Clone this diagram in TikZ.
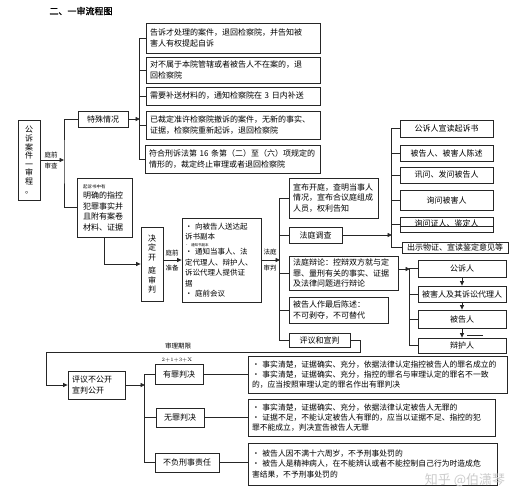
\documentclass[tikz,border=0pt]{standalone}
\usepackage{fontspec}
\newfontfamily\cjk{Noto Sans CJK SC}
\newfontfamily\cjkbold[FakeBold=1.5]{Noto Sans CJK SC}
\usetikzlibrary{arrows.meta}
\tikzset{
  bx/.style={draw=black!85, line width=0.8pt, rectangle, inner xsep=4pt, inner ysep=1pt, align=left, font=\cjk\fontsize{8}{10.5}\selectfont},
  ln/.style={draw=black!85, line width=0.8pt},
  arr/.style={ln, -{Triangle[length=4.5pt,width=4pt]}},
  lbl/.style={font=\cjk\fontsize{6.5}{7}\selectfont, inner sep=0pt},
}
\begin{document}
\begin{tikzpicture}[x=1pt,y=-1pt]
\fill[white] (0,0) rectangle (526,500);
\useasboundingbox (0,0) rectangle (526,500);

\node[font=\cjkbold\fontsize{9}{10}\selectfont] (title) at (81,11) {二、一审流程图};

% left column
\node[bx, align=center, text width=14pt, minimum height=80pt, font=\cjk\fontsize{8}{8.6}\selectfont] (main) at (29,160) {公\\诉\\案\\件\\一\\审\\程\\。};
\node[bx, align=center, text width=42pt, minimum height=16pt] (tsqk) at (103,119) {特殊情况};
\node[bx, text width=43pt, inner xsep=6pt, minimum height=59pt] (qss) at (104.5,207.5) {{\fontsize{4.5}{5}\selectfont 起诉书中有}\\明确的指控\\犯罪事实并\\且附有案卷\\材料、证据};
\node[bx, align=center, text width=14pt, minimum height=74pt, font=\cjk\fontsize{8}{9.5}\selectfont] (jskt) at (152,264) {决\\定\\开\\[4pt]庭\\审\\判};
\node[bx, text width=73pt, inner xsep=3pt, minimum height=84pt, font=\cjk\fontsize{7.5}{10.5}\selectfont] (tqzb) at (221.5,260) {• 向被告人送达起\\诉书副本\\[-4pt]{\fontsize{3.5}{4}\selectfont • 通知书副本}\\[-2pt]• 通知当事人、法\\定代理人、辩护人、\\诉讼代理人提供证\\据\\• 庭前会议};

% special cases group
\node[bx, text width=166pt, minimum height=30pt] (b1) at (233,38) {告诉才处理的案件，退回检察院，并告知被\\害人有权提起自诉};
\node[bx, text width=166pt, minimum height=26pt] (b2) at (233,70) {对不属于本院管辖或者被告人不在案的，退\\回检察院};
\node[bx, text width=166pt, minimum height=18pt] (b3) at (233,96) {\mbox{需要补送材料的，通知检察院在 3 日内补送}};
\node[bx, text width=166pt, minimum height=28pt] (b4) at (233,125) {\mbox{已裁定准许检察院撤诉的案件，无新的事实、}\\证据，检察院重新起诉，退回检察院};
\node[bx, text width=168pt, inner xsep=3.5pt, minimum height=28pt] (b5) at (233,159) {\mbox{符合刑诉法第 16 条第（二）至（六）项规定的}\\情形的，裁定终止审理或者退回检察院};

% trial group
\node[bx, text width=81pt, minimum height=40pt] (xbkt) at (333.5,198) {宣布开庭，查明当事人\\情况，宣布合议庭组成\\人员，权利告知};
\node[bx, align=center, text width=45pt, minimum height=16pt] (ftdc) at (315.5,235) {法庭调查};
\node[bx, text width=101pt, minimum height=34pt] (ftbl) at (343.5,273) {法庭辩论：控辩双方就与定\\罪、量刑有关的事实、证据\\及法律问题进行辩论};
\node[bx, text width=91pt, minimum height=26pt] (zhcs) at (338.5,310) {被告人作最后陈述：\\不可剥夺，不可替代};
\node[bx, align=center, text width=53pt, minimum height=14pt, inner ysep=0pt] (yyxp) at (319.5,340) {评议和宣判};

% investigation steps
\node[bx, align=center, text width=85pt, minimum height=17pt] (r1) at (446.5,128.5) {公诉人宣读起诉书};
\node[bx, align=center, text width=85pt, minimum height=16pt] (r2) at (446.5,153) {被告人、被害人陈述};
\node[bx, align=center, text width=85pt, minimum height=16pt] (r3) at (446.5,175) {讯问、发问被告人};
\node[bx, align=center, text width=85pt, minimum height=20pt] (r4) at (446.5,200) {询问被害人};
\node[bx, align=center, text width=85pt, minimum height=15pt, inner ysep=0pt] (r5) at (446.5,224.5) {\raisebox{2.5pt}{询问证人、鉴定人}};
\node[bx, align=center, text width=98pt, minimum height=11pt, inner ysep=0pt] (r6) at (455,247.5) {\raisebox{1.5pt}{出示物证、宣读鉴定意见等}};

% debate parties
\node[bx, align=center, text width=80pt, minimum height=17pt] (s1) at (462,268.5) {公诉人};
\node[bx, align=center, text width=80pt, minimum height=16pt] (s2) at (462,294) {被害人及其诉讼代理人};
\node[bx, align=center, text width=80pt, minimum height=18pt] (s3) at (462,319) {被告人};
\node[bx, align=center, text width=80pt, minimum height=15pt, inner ysep=0pt] (s4) at (462,345.5) {辩护人};

% verdict group
\node[bx, text width=49pt, minimum height=28pt] (pyb) at (96.5,385) {评议不公开\\宣判公开};
\node[bx, align=center, text width=40pt, minimum height=20pt] (yz) at (179,374) {有罪判决};
\node[bx, align=center, text width=40pt, minimum height=19pt] (wz) at (180,417.5) {无罪判决};
\node[bx, align=center, text width=56pt, minimum height=19pt] (bf) at (187,462.5) {不负刑事责任};
\node[bx, text width=251pt, minimum height=37pt, font=\cjk\fontsize{7.8}{10}\selectfont] (d1) at (377.5,374.5) {• 事实清楚，证据确实、充分，依据法律认定指控被告人的罪名成立的\\• 事实清楚，证据确实、充分，指控的罪名与审理认定的罪名不一致\\的，应当按照审理认定的罪名作出有罪判决};
\node[bx, text width=239pt, minimum height=37pt, font=\cjk\fontsize{7.8}{10}\selectfont] (d2) at (371.5,417.5) {• 事实清楚，证据确实、充分，依据法律认定被告人无罪的\\• 证据不足，不能认定被告人有罪的，应当以证据不足、指控的犯\\罪不能成立，判决宣告被告人无罪};
\node[bx, text width=241pt, minimum height=42pt, font=\cjk\fontsize{7.8}{10.5}\selectfont] (d3) at (372.5,464) {• 被告人因不满十六周岁，不予刑事处罚的\\• 被告人是精神病人，在不能辨认或者不能控制自己行为时造成危\\害结果，不予刑事处罚的};

% labels
\node[lbl] (l1a) at (51,155) {庭前};
\node[lbl] (l1b) at (51,166) {审查};
\node[lbl] (l2a) at (172,253) {庭前};
\node[lbl] (l2b) at (172,268) {准备};
\node[lbl] (l3a) at (270,252) {法庭};
\node[lbl] (l3b) at (270,268) {审判};
\node[lbl] (sqx) at (178,346) {审理期限};
\node[font=\fontsize{5}{6}\selectfont, inner sep=0pt] (sqx2) at (177,360) {2+1+3+X};
\node[text=gray!40, font=\cjk\fontsize{13}{14}\selectfont] (wm) at (465,480) {知乎 @伯潇琴};

% connectors
\coordinate (j1) at (64,160);
\draw[arr] (main.east) -- (j1);
\draw[ln] (tsqk.west) -| (j1) |- (qss.west);
\coordinate (j2) at (140,119);
\draw[arr] (tsqk.east) -- (j2);
\draw[ln] (b1.west) -- ++(-6,0) |- (b5.west);
\draw[ln] (b2.west) -- ++(-6,0);
\draw[ln] (b3.west) -- ++(-6,0);
\draw[ln] (b4.west) -- ++(-6,0);

\draw[arr] (qss.south) |- (jskt.west);
\draw[arr] (jskt.east |- tqzb.west) -- (tqzb.west);
\coordinate (j3) at (280,260);
\draw[arr] (tqzb.east) -- (j3);
\draw[ln] (xbkt.west) -- ++(-9,0) |- (yyxp.west);
\draw[ln] (ftdc.west) -- ++(-9,0);
\draw[ln] (ftbl.west) -- ++(-9,0);
\draw[ln] (zhcs.west) -- ++(-9,0);

\coordinate (j4) at (392,235);
\draw[arr] (ftdc.east) -- (j4);
\draw[ln] (r1.west) -- ++(-8,0) |- (r6.west);
\draw[ln] (r2.west) -- ++(-8,0);
\draw[ln] (r3.west) -- ++(-8,0);
\draw[ln] (r4.west) -- ++(-8,0);
\draw[ln] (r5.west) -- ++(-8,0);
\draw[ln, line width=0.6pt] ([yshift=-2pt]r5.west) -- ([yshift=-2pt]r5.east);

\coordinate (j5) at (410,269);
\draw[arr] (ftbl.east |- j5) -- (j5);
\draw[ln] (s1.west) -- ++(-8,0) |- (s4.west);
\draw[ln] (s2.west) -- ++(-8,0);
\draw[ln] (s3.west) -- ++(-8,0);
\draw[arr] (s1.south) -- (s2.north);
\draw[arr] (s2.south) -- (s3.north);
\draw[arr] (s3.south) -- (s4.north);
\draw[ln, line width=0.6pt] (467,335) -- (483,335);

\coordinate (k1) at (360,352);
\coordinate (k2) at (46,352);
\coordinate (k3) at (46,385);
\draw[arr] (yyxp.east) -| (k1) -- (k2) -- (k3) -- (pyb.west);

\coordinate (j6) at (145,385);
\draw[arr] (pyb.east) -- (j6);
\draw[ln] (yz.west) -- ++(-10,0) |- (bf.west);
\draw[ln] (wz.west) -- ++(-11,0);
\draw[ln] (yz.east) -- (yz.east -| d1.west);
\draw[ln] (wz.east) -- (wz.east -| d2.west);
\draw[ln] (bf.east) -- (bf.east -| d3.west);
\end{tikzpicture}
\end{document}
